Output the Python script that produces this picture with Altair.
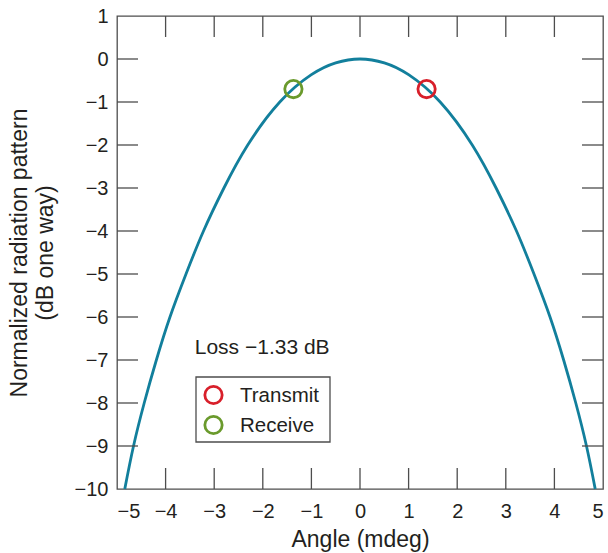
import altair as alt
import pandas as pd

# Normalized one-way radiation pattern (dB) versus angle (mdeg)
angle = [-4.84, -4.66, -4.44, -4.19, -3.91, -3.58, -3.22, -2.80, -2.31, -1.65,
         -1.0, -0.5, 0.0, 0.5, 1.0, 1.65, 2.31, 2.80, 3.22, 3.58, 3.91, 4.19,
         4.44, 4.66, 4.84]
pattern_db = [-10, -9, -8, -7, -6, -5, -4, -3, -2, -1,
              -0.365, -0.09, 0.0, -0.09, -0.365, -1, -2, -3, -4, -5, -6, -7,
              -8, -9, -10]

# Beam positions on transmit and receive
roles = ["Transmit", "Receive"]
role_angle = [1.37, -1.37]
role_db = [-0.70, -0.70]
role_colors = ["#d81f2a", "#6a9a2c"]

loss_label = "Loss \u22121.33 dB"
loss_pos = (-3.4, -6.86)

x_ticks = list(range(-5, 6))
y_ticks = list(range(-10, 2))
x_inner = list(range(-4, 5))
y_inner = list(range(-9, 1))

W, H = 486, 473
TICK = 21
FONT = "Liberation Sans"
INK = "#231f20"
FRAME = "#4d4d4d"

curve_df = pd.DataFrame({"angle": angle, "db": pattern_db})
marks_df = pd.DataFrame({"role": roles, "angle": role_angle, "db": role_db})
xt_df = pd.DataFrame({"angle": x_inner})
yt_df = pd.DataFrame({"db": y_inner})
loss_df = pd.DataFrame({"angle": [loss_pos[0]], "db": [loss_pos[1]], "t": [loss_label]})

xscale = alt.Scale(domain=[-5, 5], nice=False, zero=False)
yscale = alt.Scale(domain=[-10, 1], nice=False, zero=False)
x_axis = alt.Axis(values=x_ticks, ticks=False, tickSize=0, domain=False,
                  grid=False, labelPadding=12, titlePadding=7)
y_axis = alt.Axis(values=y_ticks, ticks=False, tickSize=0, domain=False,
                  grid=False, labelPadding=9, titlePadding=17)
X = alt.X("angle:Q", scale=xscale, title="Angle (mdeg)", axis=x_axis)
Y = alt.Y("db:Q", scale=yscale, title=["Normalized radiation pattern", "(dB one way)"],
          axis=y_axis)
role_color = alt.Color("role:N", scale=alt.Scale(domain=roles, range=role_colors),
                       legend=None)

curve = alt.Chart(curve_df).mark_line(
    color="#127f9c", strokeWidth=2.8, interpolate="natural"
).encode(x=X, y=Y)

points = alt.Chart(marks_df).mark_point(
    shape="circle", filled=False, size=300, strokeWidth=2.8, opacity=1
).encode(x=X, y=Y, color=role_color)

loss = alt.Chart(loss_df).mark_text(
    align="left", baseline="alphabetic", font=FONT, fontSize=21, color=INK
).encode(x=X, y=Y, text="t:N")

tick_style = dict(color=FRAME, strokeWidth=1.3)
tb = alt.Chart(xt_df).mark_rule(**tick_style).encode(
    x=X, y=alt.value(H), y2=alt.value(H - TICK))
tt = alt.Chart(xt_df).mark_rule(**tick_style).encode(
    x=X, y=alt.value(0), y2=alt.value(TICK))
tl = alt.Chart(yt_df).mark_rule(**tick_style).encode(
    y=Y, x=alt.value(0), x2=alt.value(TICK))
tr = alt.Chart(yt_df).mark_rule(**tick_style).encode(
    y=Y, x=alt.value(W), x2=alt.value(W - TICK))

# Boxed key for the two beam markers
KEY_X, KEY_Y, KEY_W, KEY_H = 79, 361, 134, 65
ROW0, ROW_STEP = KEY_Y + 18, 30
key_box = alt.Chart(loss_df).mark_rect(
    fill="white", stroke=FRAME, strokeWidth=1.3
).encode(x=alt.value(KEY_X), x2=alt.value(KEY_X + KEY_W),
         y=alt.value(KEY_Y), y2=alt.value(KEY_Y + KEY_H))
key_rows = []
for i, role in enumerate(roles):
    row = alt.Chart(marks_df).transform_filter(alt.datum.role == role)
    key_rows.append(row.mark_point(
        shape="circle", filled=False, size=300, strokeWidth=2.8, opacity=1
    ).encode(x=alt.value(KEY_X + 17.5), y=alt.value(ROW0 + i * ROW_STEP), color=role_color))
    key_rows.append(row.mark_text(
        align="left", baseline="middle", font=FONT, fontSize=20.5, color=INK
    ).encode(x=alt.value(KEY_X + 44), y=alt.value(ROW0 + i * ROW_STEP + 1), text="role:N"))

chart = alt.layer(curve, tb, tt, tl, tr, loss, points, key_box, *key_rows).properties(
    width=W, height=H,
    background="white",
    autosize=alt.AutoSizeParams(type="none"),
    padding={"left": 117, "top": 16, "right": 5, "bottom": 64},
).configure_view(
    stroke=FRAME, strokeWidth=1.3
).configure_axis(
    labelFont=FONT, labelFontSize=20, labelColor=INK,
    titleFont=FONT, titleFontSize=23, titleColor=INK, titleFontWeight="normal",
    titleLineHeight=26
)

chart.save("out.html", embed_options={"renderer": "svg", "actions": False})
